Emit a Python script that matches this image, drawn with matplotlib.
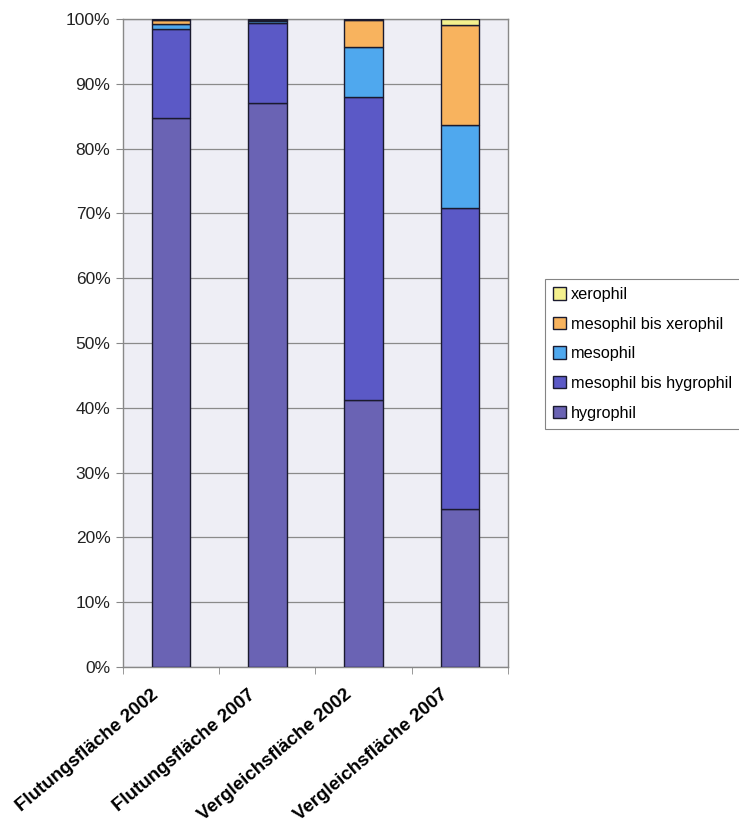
import matplotlib.pyplot as plt
import matplotlib.transforms as mtransforms
import numpy as np

plt.rcParams['font.family'] = ['Liberation Sans', 'DejaVu Sans']

categories = ["Flutungsfläche 2002", "Flutungsfläche 2007",
              "Vergleichsfläche 2002", "Vergleichsfläche 2007"]

# shares in percent, bottom to top
hygrophil = [84.7, 87.0, 41.2, 24.4]
mesophil_bis_hygrophil = [13.7, 12.4, 46.7, 46.5]
mesophil = [0.9, 0.3, 7.8, 12.7]
mesophil_bis_xerophil = [0.6, 0.2, 4.2, 15.5]
xerophil = [0.1, 0.1, 0.1, 0.9]

series = [
    ("hygrophil", hygrophil, "#6a63b4"),
    ("mesophil bis hygrophil", mesophil_bis_hygrophil, "#5b59c6"),
    ("mesophil", mesophil, "#4fa8ee"),
    ("mesophil bis xerophil", mesophil_bis_xerophil, "#f8b35e"),
    ("xerophil", xerophil, "#f4f08e"),
]

fig = plt.figure(figsize=(7.39, 8.30), dpi=100)
ax = fig.add_axes([0.1664, 0.1964, 0.521, 0.7806])
ax.set_facecolor("#eeeef5")

x = np.arange(len(categories))
bottom = np.zeros(len(categories))
handles = []
for name, vals, col in series:
    vals = np.array(vals)
    h = ax.bar(x, vals, width=0.40, bottom=bottom, color=col,
               edgecolor="#1a1a2e", linewidth=1.0, label=name, zorder=3)
    handles.append(h)
    bottom += vals

ax.set_xlim(-0.5, len(categories) - 0.5)
ax.set_ylim(0, 100)
ax.set_yticks(np.arange(0, 101, 10))
ax.set_yticklabels([f"{v}%" for v in range(0, 101, 10)], fontsize=12.5,
                   color="#222222")
ax.yaxis.grid(True, color="#8a8a8a", linewidth=0.9, zorder=0)

# category labels, ticks sit on category boundaries
ax.set_xticks(x)
ax.set_xticklabels(categories, rotation=40, ha="right", va="top",
                   rotation_mode="anchor", fontsize=13.5, fontweight="bold")
ax.tick_params(axis="x", length=0, pad=14)
shift = mtransforms.ScaledTranslation(-0.2, 0, fig.dpi_scale_trans)
for lab in ax.get_xticklabels():
    lab.set_transform(lab.get_transform() + shift)
ax.set_xticks(np.arange(-0.5, len(categories), 1.0), minor=True)
ax.tick_params(axis="x", which="minor", length=5, color="#888888")
ax.tick_params(axis="y", length=5, color="#888888", pad=4)

for s in ax.spines.values():
    s.set_color("#888888")
    s.set_linewidth(1.0)

leg = fig.legend(handles[::-1], [s[0] for s in series][::-1],
                 loc="upper left", bbox_to_anchor=(0.7375, 0.664),
                 borderaxespad=0, fontsize=11.7, frameon=True, fancybox=False,
                 edgecolor="#666666", handlelength=0.8, handleheight=0.8,
                 handletextpad=0.3, labelspacing=0.9, borderpad=0.5)
leg.get_frame().set_linewidth(0.8)

fig.savefig("out.png", dpi=100, facecolor="white")
